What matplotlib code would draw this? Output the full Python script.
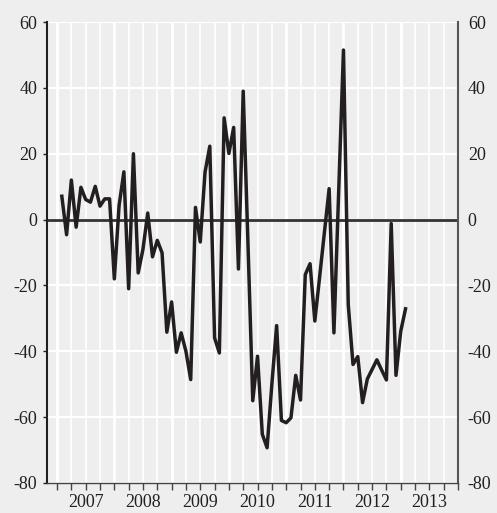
import numpy as np
import matplotlib
matplotlib.use("Agg")
import matplotlib.pyplot as plt

plt.rcParams['font.family'] = ['Liberation Serif', 'DejaVu Serif']
plt.rcParams['axes.unicode_minus'] = False

# monthly values, Feb 2007 .. Feb 2013
start_year = 2007
values = [7.1, -4.6, 12.0, -2.3, 9.8, 6.1, 5.3, 10.1, 4.1, 6.3, 6.3, -18.0,
          4.3, 14.5, -21.0, 20.0, -16.2, -9.0, 2.0, -11.3, -6.3, -10.1, -34.2, -25.0,
          -40.3, -34.4, -40.0, -48.6, 3.7, -6.8, 14.4, 22.3, -35.9, -40.5, 30.9, 20.1,
          28.0, -15.0, 39.0, -7.5, -55.0, -41.5, -65.2, -69.3, -50.0, -32.2, -61.0, -61.7,
          -60.2, -47.3, -54.8, -16.7, -13.4, -30.8, -17.5, -4.0, 9.4, -34.4, 8.6, 51.5,
          -25.8, -44.0, -41.6, -55.6, -48.4, -45.5, -42.6, -45.7, -48.7, -1.2, -47.3, -33.9,
          -27.1]
year_labels = ['2007', '2008', '2009', '2010', '2011', '2012', '2013']
y_ticks = [-80, -60, -40, -20, 0, 20, 40, 60]

x = start_year + (np.arange(len(values)) + 1) / 12.0
years = np.arange(2007, 2014)
quarters = np.arange(2007, 2014, 0.25)

bg = '#eeeeee'
fig = plt.figure(figsize=(4.97, 5.13), dpi=100, facecolor=bg)
ax = fig.add_axes([0.0946, 0.0585, 0.8270, 0.8985], facecolor=bg)

ax.set_xlim(2006.825, 2014.0)
ax.set_ylim(-80, 60)

# grid
for yv in y_ticks:
    ax.axhline(yv, color='white', lw=1.6, zorder=0)
for q in quarters:
    ax.axvline(q, color='white', lw=1.2, zorder=0)
for yr in years:
    ax.axvline(yr, color='white', lw=2.0, zorder=0)
ax.axhline(0, color='#333333', lw=2.0, zorder=1)

ax.plot(x, values, color='#231f20', lw=2.5, zorder=3)

# axes styling
ax.spines['top'].set_visible(False)
ax.spines['left'].set_color('#231f20')
ax.spines['left'].set_linewidth(1.5)
ax.spines['right'].set_color('#555555')
ax.spines['right'].set_linewidth(1.5)
ax.spines['bottom'].set_color('#444444')
ax.spines['bottom'].set_linewidth(1.0)

ax.set_yticks(y_ticks)
ax.set_yticklabels([str(v) for v in y_ticks])
ax.tick_params(axis='y', labelsize=13, colors='#231f20', left=True, right=False,
               labelleft=True, labelright=True, length=3, width=1, pad=4)

ax.xaxis.remove_overlapping_locs = False
ax.set_xticks(list(quarters) + [2014.0])
ax.set_xticklabels([])
ax.set_xticks(years + 0.5, minor=True)
ax.set_xticklabels(year_labels, minor=True)
ax.tick_params(axis='x', which='major', length=5, width=1, color='#444444', direction='out')
ax.tick_params(axis='x', which='minor', length=0, labelsize=13, colors='#231f20', pad=8)

fig.savefig('out.png', dpi=100, facecolor=bg)
